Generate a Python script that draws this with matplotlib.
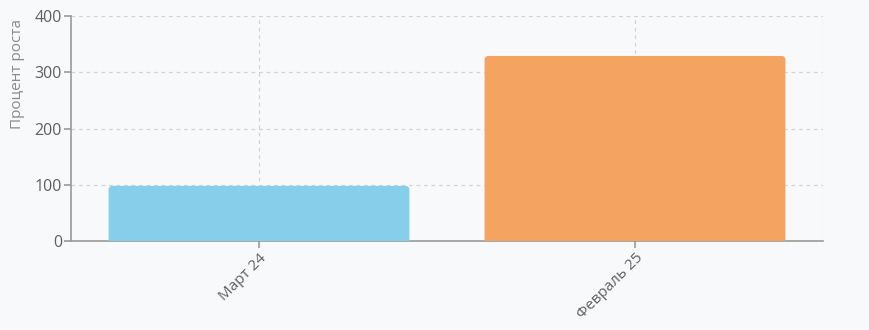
import matplotlib.pyplot as plt
from matplotlib.patches import FancyBboxPatch

categories = ['Март 24', 'Февраль 25']
growth = [98, 329]
bar_colors = ['#87CEEB', '#F4A460']

plt.rcParams['font.family'] = ['Open Sans', 'DejaVu Sans']

bg = '#f8f9fb'
fig = plt.figure(figsize=(8.7, 3.3), dpi=100, facecolor=bg)
ax = fig.add_axes([71 / 870, 89 / 330, 752 / 870, 225 / 330], facecolor=bg)

bars = ax.bar(range(len(categories)), growth, width=0.8, color=bar_colors, zorder=3)
# swap plain bars for rounded ones
for b in bars:
    x, w, h = b.get_x(), b.get_width(), b.get_height()
    b.set_visible(False)
    ax.add_patch(FancyBboxPatch((x, -20), w, h + 20,
                                boxstyle='round,pad=0,rounding_size=0.011',
                                mutation_aspect=650, facecolor=b.get_facecolor(),
                                edgecolor='none', zorder=3))

ax.set_xlim(-0.5, 1.5)
ax.set_ylim(0, 400)
ax.set_yticks([0, 100, 200, 300, 400])
ax.set_xticks(range(len(categories)))
ax.set_xticklabels(categories, rotation=45, ha='right', rotation_mode='anchor')

ax.grid(True, linestyle=(0, (3, 3)), color='#d0d2d6', linewidth=0.9, zorder=0)
ax.axvline(1.5, linestyle=(0, (3, 3)), color='#d0d2d6', linewidth=0.9, zorder=0)

for s in ['top', 'right']:
    ax.spines[s].set_visible(False)
for s in ['left', 'bottom']:
    ax.spines[s].set_color('#999999')
    ax.spines[s].set_linewidth(1.2)

ax.tick_params(axis='y', colors='#999999', length=5, width=1.2, labelsize=11.5,
               labelcolor='#606060', pad=1.5)
ax.tick_params(axis='x', colors='#999999', length=5, width=1.2, labelsize=11,
               labelcolor='#606060', pad=2)
ax.set_ylabel('Процент роста', color='#8a8a8a', fontsize=11)
ax.yaxis.set_label_coords(-0.061, 0.742)

fig.savefig('out.png', dpi=100, facecolor=bg)
